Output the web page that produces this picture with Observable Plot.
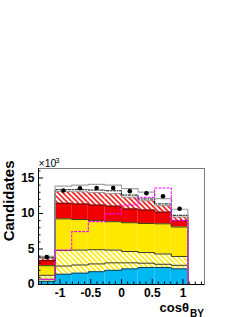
<!DOCTYPE html>
<html><head><meta charset="utf-8">
<script src="https://cdn.jsdelivr.net/npm/d3@7"></script>
<script src="https://cdn.jsdelivr.net/npm/@observablehq/plot@0.6"></script>
<style>html,body{margin:0;padding:0;background:#fff;}</style>
</head><body><div id="chart"></div>
<script>
// bin edges of cos(theta_BY) histogram (10 bins)
const binEdges = [-1.35,-1.08,-0.81,-0.54,-0.27,0,0.27,0.54,0.81,1.08,1.35];
// stacked components, in thousands of candidates per bin (bottom to top)
const cyanComp      = [0.45,1.45,1.60,1.80,2.00,2.20,2.40,2.40,2.20,0];
const hatchLowComp  = [0.30,1.15,1.15,1.10,1.05,0.85,0.60,0.45,0.50,0];
const hatchWideComp = [0.55,2.20,2.10,2.00,1.80,1.60,1.50,1.45,1.25,0];
const yellowComp    = [1.35,4.45,4.30,4.10,4.00,4.05,4.10,4.25,4.15,0];
const redComp       = [0.70,2.20,2.20,2.20,2.20,1.95,1.90,1.65,0.90,0];
const redHatchComp  = [0.35,1.65,1.70,1.75,1.75,1.65,1.30,0.90,0.50,0];
const combComp      = [0.15,0.25,0.30,0.35,0.40,0.30,0.25,0.25,0.25,0];
const whiteComp     = [0.10,0.50,0.65,0.80,0.80,0.90,0.95,0.75,0.85,0];
// data points
const dataPoints    = [3.85,13.24,13.55,13.6,13.6,13.15,12.86,12.44,10.68];
// magenta dotted reference shape
const signalShape   = [0.70,4.85,7.45,8.85,9.95,11.2,12.3,13.6,9.0,0];
// axes
const yTicksMajor = [0,5,10,15];
const yTickLabels = ["0","5","10","15"];
const xTicksMajor = [-1,-0.5,0,0.5,1];
const xTickLabels = ["-1","-0.5","0","0.5","1"];
const yMinor = d3.range(0,17,1).filter(v => v % 5 !== 0);
const xMinor = d3.range(-13,14,1).map(v => v/10).filter(v => Math.abs(v*10) % 5 !== 0);

const layers = [
  {comp: cyanComp,      fill: "#00b9f2",          line: "#1a3a55", lw: 1},
  {comp: hatchLowComp,  fill: "url(#yhatch)",     line: "#3a3a20", lw: 1},
  {comp: hatchWideComp, fill: "url(#yhatch)",     line: "#3a3a20", lw: 1},
  {comp: yellowComp,    fill: "#ffe800",          line: "#3a3a20", lw: 1},
  {comp: redComp,       fill: "#f00000",          line: "#5a0000", lw: 1},
  {comp: redHatchComp,  fill: "url(#rhatch)",     line: "#999999", lw: 1},
  {comp: combComp,      fill: "#ffffff",          line: "#000000", lw: 1, dash: "2.5,1.5,1,1.5"},
  {comp: whiteComp,     fill: "#ffffff",          line: "#a0a0a0", lw: 1.2}
];

const nb = 10;
let cum = new Array(nb).fill(0);
const marks = [];
const lineMarks = [];
for (const L of layers) {
  const rows = [];
  const pts = [];
  for (let i = 0; i < nb; i++) {
    const y1 = cum[i], y2 = cum[i] + L.comp[i];
    rows.push({x1: binEdges[i], x2: binEdges[i+1], y1, y2});
    pts.push({x: binEdges[i], y: y2});
    cum[i] = y2;
  }
  pts.push({x: binEdges[nb], y: cum[nb-1]});
  marks.push(Plot.rect(rows.filter(r => r.y2 > r.y1), {x1: "x1", x2: "x2", y1: "y1", y2: "y2", fill: L.fill}));
  lineMarks.push(Plot.line(pts, {x: "x", y: "y", curve: "step-after", stroke: L.line, strokeWidth: L.lw, strokeDasharray: L.dash}));
}

const sigPts = signalShape.map((v, i) => ({x: binEdges[i], y: v}));
sigPts.push({x: binEdges[nb], y: signalShape[nb-1]});
const dots = dataPoints.map((v, i) => ({x: (binEdges[i] + binEdges[i+1]) / 2, y: v}));

const svg = Plot.plot({
  width: 245, height: 317,
  marginLeft: 38, marginRight: 41, marginTop: 168, marginBottom: 33,
  style: {background: "#fff", fontFamily: "Liberation Sans, Arial, sans-serif", fontWeight: "bold", fontSize: "12px", color: "#000"},
  x: {domain: [-1.35, 1.35], axis: null},
  y: {domain: [0, 16.34], axis: null},
  marks: [
    ...marks,
    ...lineMarks,
    Plot.line(sigPts, {x: "x", y: "y", curve: "step-after", stroke: "#ff00ff", strokeWidth: 1.1, strokeDasharray: "2,2"}),
    Plot.dot(dots, {x: "x", y: "y", r: 2.3, fill: "#000", stroke: "none"}),
    Plot.frame({stroke: "#7a7a7a"}),
    Plot.ruleY([0], {stroke: "#000"}),
    Plot.ruleX([-1.35], {stroke: "#000"}),
    Plot.axisY({ticks: yTicksMajor, tickSize: 5, dx: 5, tickFormat: () => "", stroke: "#000"}),
    Plot.axisY({ticks: yMinor, tickSize: 2.5, dx: 2.5, tickFormat: () => "", stroke: "#000"}),
    Plot.axisY({ticks: yTicksMajor, tickSize: 0, tickPadding: 4, tickFormat: d => yTickLabels[yTicksMajor.indexOf(d)], fontSize: 12, fontWeight: "bold"}),
    Plot.axisX({ticks: xTicksMajor, tickSize: 5, dy: -5, tickFormat: () => "", stroke: "#000"}),
    Plot.axisX({ticks: xMinor, tickSize: 2.5, dy: -2.5, tickFormat: () => "", stroke: "#000"}),
    Plot.axisX({ticks: xTicksMajor, tickSize: 0, tickPadding: 4, tickFormat: d => xTickLabels[xTicksMajor.indexOf(d)], fontSize: 12, fontWeight: "bold"}),
    Plot.text(["Candidates"], {frameAnchor: "top-left", dx: -29.5, dy: -8, rotate: -90, textAnchor: "end", lineAnchor: "middle", fontSize: 15, fontWeight: "bold", text: d => d}),
    Plot.text(["cosθ"], {frameAnchor: "bottom-right", dx: -15.5, dy: 23.3, textAnchor: "end", lineAnchor: "middle", fontSize: 13, fontWeight: "bold", text: d => d}),
    Plot.text(["BY"], {frameAnchor: "bottom-right", dx: -0.5, dy: 28.8, textAnchor: "end", lineAnchor: "middle", fontSize: 10, fontWeight: "bold", text: d => d}),
    Plot.text(["×10"], {frameAnchor: "top-left", dx: 0, dy: -4.6, textAnchor: "start", lineAnchor: "middle", fontSize: 10.5, fontWeight: "normal", text: d => d}),
    Plot.text(["3"], {frameAnchor: "top-left", dx: 16.8, dy: -8, textAnchor: "start", lineAnchor: "middle", fontSize: 7.5, fontWeight: "normal", text: d => d})
  ]
});

// hatch patterns
const defs = d3.select(svg).insert("defs", ":first-child");
function hatch(id, color, p, w) {
  const pat = defs.append("pattern").attr("id", id).attr("patternUnits", "userSpaceOnUse")
    .attr("width", p).attr("height", p).attr("patternTransform", "rotate(-45)");
  pat.append("rect").attr("width", p).attr("height", p).attr("fill", "#fff");
  pat.append("line").attr("x1", p/2).attr("y1", 0).attr("x2", p/2).attr("y2", p)
    .attr("stroke", color).attr("stroke-width", w);
}
hatch("rhatch", "#f00000", 3.6, 1.5);
hatch("yhatch", "#ffe800", 3.6, 1.6);

document.getElementById("chart").appendChild(svg);
</script>
</body></html>
